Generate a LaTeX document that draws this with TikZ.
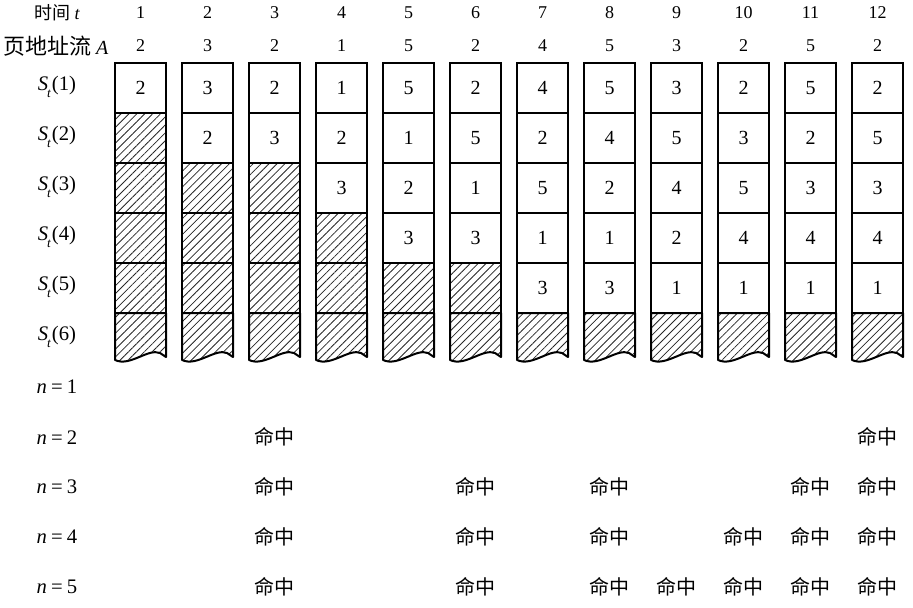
\documentclass[tikz,border=0pt]{standalone}
\usepackage{fontspec}
\setmainfont{Liberation Serif}
\newfontfamily\cjk{Noto Sans CJK SC}
\usetikzlibrary{patterns.meta}
\tikzset{
  cell/.style={draw, line width=1.5pt, minimum width=38.25pt, minimum height=37.5pt, inner sep=0pt, font=\fontsize{15}{15}\selectfont},
  hatchfill/.style={pattern={Lines[angle=45,distance=4.2pt,line width=0.6pt]}, pattern color=black!85},
  hatched/.style={inner sep=0pt, minimum width=38.25pt, minimum height=37.5pt, hatchfill},
  lab/.style={font=\fontsize{15.5}{16}\selectfont, inner sep=0pt},
  hit/.style={font=\cjk\fontsize{15}{15}\selectfont, inner sep=0pt},
  hdr/.style={font=\fontsize{13.5}{13.5}\selectfont, inner sep=0pt},
}
\newcommand{\Slab}[1]{\textit{S}\kern-0.05em\raisebox{-0.35em}{\fontsize{10}{10}\selectfont\itshape t}\kern0.05em(#1)}
\newcommand{\Nlab}[1]{\textit{n}\hspace{0.2em}=\hspace{0.2em}#1}
\begin{document}
\begin{tikzpicture}[x=0.75pt,y=-0.75pt]
\useasboundingbox (0,0) rectangle (913,607);
% headers
\node[hdr] (tlab) at (57,13) {{\cjk\fontsize{13.5}{13.5}\selectfont 时间} \textit{t}};
\node[hdr] (alab) at (56,46) {{\cjk\fontsize{16.5}{16.5}\selectfont 页地址流} {\fontsize{15}{15}\selectfont\textit{A}}};
\foreach \i in {1,...,12} {
  \node[hdr] (t-\i) at ({140.5+67*(\i-1)},13) {\i};
}
\foreach \v [count=\i] in {2,3,2,1,5,2,4,5,3,2,5,2} {
  \node[hdr] (a-\i) at ({140.5+67*(\i-1)},46) {\v};
}
% row labels
\foreach \r in {1,...,6} {
  \node[lab] (s-\r) at (57,{87+50*(\r-1)}) {\Slab{\r}};
}
\foreach \n/\y in {1/387,2/438,3/487,4/537,5/587} {
  \node[lab] (n-\n) at (57,\y) {\Nlab{\n}};
}
% bottom broken cells
\foreach \i in {1,...,12} {
  \pgfmathsetmacro\L{115+67*(\i-1)}
  \draw[line width=1.5pt, hatchfill, line join=round]
    (\L,313) -- ({\L+51},313) -- ({\L+51},357) -- ({\L+45},353)
    .. controls ({\L+33},348) and ({\L+15},367) .. (\L,360) -- cycle;
}
% hatched fills
\foreach \r/\nh in {2/1,3/3,4/4,5/6} {
  \foreach \i in {1,...,\nh} {
    \node[hatched] (f-\i-\r) at ({140.5+67*(\i-1)},{88+50*(\r-1)}) {};
  }
}
% empty (hatched) cell borders
\foreach \r/\nh in {2/1,3/3,4/4,5/6} {
  \foreach \i in {1,...,\nh} {
    \node[cell] (c-\i-\r) at (f-\i-\r) {};
  }
}
% value cells
\foreach \v [count=\i] in {2,3,2,1,5,2,4,5,3,2,5,2} {
  \node[cell] (c-\i-1) at ({140.5+67*(\i-1)},88) {\v};
}
\foreach \v [count=\i from 2] in {2,3,2,1,5,2,4,5,3,2,5} {
  \node[cell] (c-\i-2) at ({140.5+67*(\i-1)},138) {\v};
}
\foreach \v [count=\i from 4] in {3,2,1,5,2,4,5,3,3} {
  \node[cell] (c-\i-3) at ({140.5+67*(\i-1)},188) {\v};
}
\foreach \v [count=\i from 5] in {3,3,1,1,2,4,4,4} {
  \node[cell] (c-\i-4) at ({140.5+67*(\i-1)},238) {\v};
}
\foreach \v [count=\i from 7] in {3,3,1,1,1,1} {
  \node[cell] (c-\i-5) at ({140.5+67*(\i-1)},288) {\v};
}
% hits
\foreach \n/\cols in {2/{3,12},3/{3,6,8,11,12},4/{3,6,8,10,11,12},5/{3,6,8,9,10,11,12}} {
  \foreach \c in \cols {
    \node[hit] (h-\n-\c) at ({140.5+67*(\c-1)},{387+50*(\n-1)}) {命中};
  }
}
\end{tikzpicture}
\end{document}
